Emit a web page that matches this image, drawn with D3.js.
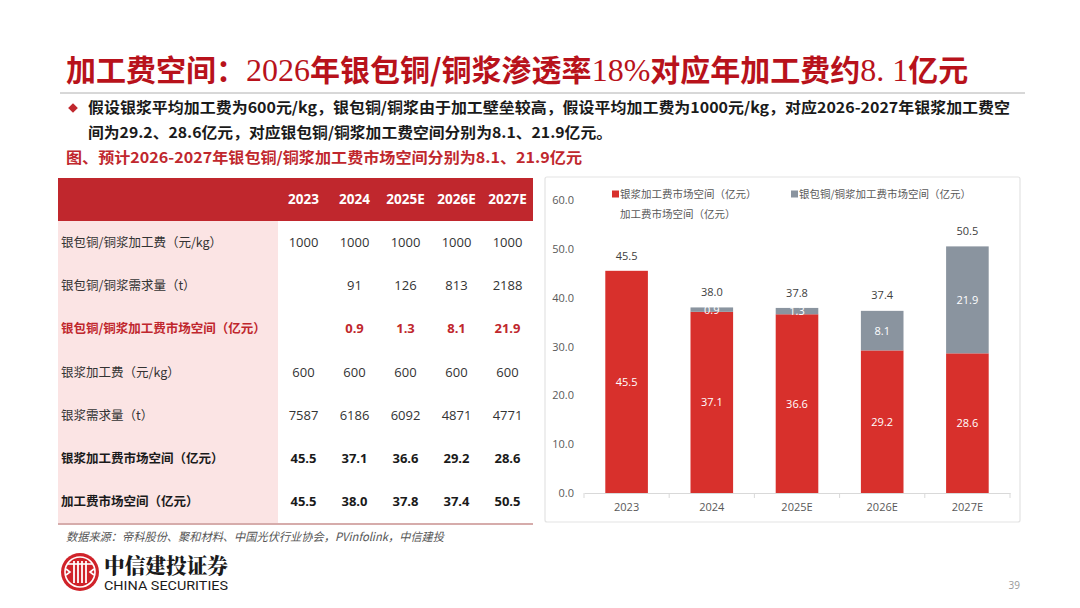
<!DOCTYPE html>
<html lang="zh">
    <head>
        <meta charset="utf-8">
        <title>加工费空间</title>
        <script src="https://d3js.org/d3.v7.min.js"></script>
        <style>
            body { margin: 0; background: #fff; }
            text { font-family: "Open Sans", "Noto Sans CJK SC", sans-serif; }
        </style>
    </head>
    <body>
    <div id="mainDiv"></div>

        <script type="text/javascript">
            // chart data
            const years = ['2023', '2024', '2025E', '2026E', '2027E']
            const silverFee = [45.5, 37.1, 36.6, 29.2, 28.6]
            const copperFee = [0, 0.9, 1.3, 8.1, 21.9]
            const totalFee = [45.5, 38.0, 37.8, 37.4, 50.5]
            const yTicks = [0, 10, 20, 30, 40, 50, 60]
            const seriesNames = ['银浆加工费市场空间（亿元）', '银包铜/铜浆加工费市场空间（亿元）', '加工费市场空间（亿元）']

            // table data
            const rowLabels = ['银包铜/铜浆加工费（元/kg）', '银包铜/铜浆需求量（t）', '银包铜/铜浆加工费市场空间（亿元）',
                '银浆加工费（元/kg）', '银浆需求量（t）', '银浆加工费市场空间（亿元）', '加工费市场空间（亿元）']
            const rowValues = [
                ['1000', '1000', '1000', '1000', '1000'],
                ['', '91', '126', '813', '2188'],
                ['', '0.9', '1.3', '8.1', '21.9'],
                ['600', '600', '600', '600', '600'],
                ['7587', '6186', '6092', '4871', '4771'],
                ['45.5', '37.1', '36.6', '29.2', '28.6'],
                ['45.5', '38.0', '37.8', '37.4', '50.5']
            ]

            const width = 1080
            const height = 608
            const red = '#d8302c'
            const darkRed = '#c0272d'
            const gray = '#8a949f'
            const cjk = '"Noto Sans CJK SC", sans-serif'

            const svg = d3.select('#mainDiv').append('svg')
                .attr('width', width)
                .attr('height', height)

            // ---- header ----
            // title: the digits are set in a lighter serif face, as on the slide
            const titleParts = [
                {t: '加工费空间：', d: false}, {t: '2026', d: true}, {t: '年银包铜/铜浆渗透率', d: false},
                {t: '18%', d: true}, {t: '对应年加工费约', d: false}, {t: '8. 1', d: true}, {t: '亿元', d: false}
            ]
            const title = svg.append('text')
                .attr('x', 66).attr('y', 81)
                .style('font-family', cjk).style('font-size', '30px').style('font-weight', 700)
                .style('fill', '#b8121b')
            title.selectAll('tspan').data(titleParts).enter().append('tspan')
                .style('font-family', d => d.d ? '"Liberation Serif", serif' : cjk)
                .style('font-weight', d => d.d ? 400 : 700)
                .style('font-size', d => d.d ? '32px' : '30px')
                .text(d => d.t)

            svg.append('line')
                .attr('x1', 60).attr('x2', 1025).attr('y1', 93).attr('y2', 93)
                .style('stroke', '#b0b0b0').style('stroke-width', 1)

            svg.append('path')
                .attr('d', d3.symbol(d3.symbolDiamond2, 60)())
                .attr('transform', 'translate(73,108)')
                .style('fill', '#c0272d')

            const bullet = [
                {t: '假设银浆平均加工费为600元/kg，银包铜/铜浆由于加工壁垒较高，假设平均加工费为1000元/kg，对应2026-2027年银浆加工费空', y: 113, w: 922},
                {t: '间为29.2、28.6亿元，对应银包铜/铜浆加工费空间分别为8.1、21.9亿元。', y: 138, w: 524}
            ]
            svg.selectAll('.bullet').data(bullet).enter().append('text')
                .attr('class', 'bullet')
                .attr('x', 88).attr('y', d => d.y)
                .attr('textLength', d => d.w).attr('lengthAdjust', 'spacingAndGlyphs')
                .style('font-family', cjk).style('font-size', '15px').style('font-weight', 700)
                .style('fill', '#1a1a1a')
                .text(d => d.t)

            svg.append('text')
                .attr('x', 66).attr('y', 163)
                .attr('textLength', 516).attr('lengthAdjust', 'spacingAndGlyphs')
                .style('font-family', cjk).style('font-size', '15px').style('font-weight', 700)
                .style('fill', '#c0272d')
                .text('图、预计2026-2027年银包铜/铜浆加工费市场空间分别为8.1、21.9亿元')

            // ---- table ----
            const table = svg.append('g')
            const colX = d3.scaleBand().domain(years).range([278, 533])
            const rowY = d3.scaleBand().domain(d3.range(rowLabels.length)).range([221, 523])

            table.append('rect')
                .attr('x', 58).attr('y', 178).attr('width', 475).attr('height', 43)
                .style('fill', darkRed)
            table.append('rect')
                .attr('x', 58).attr('y', 221).attr('width', 220).attr('height', 302)
                .style('fill', '#fbe4e4')
            table.append('line')
                .attr('x1', 58).attr('x2', 533).attr('y1', 524).attr('y2', 524)
                .style('stroke', '#c9908f').style('stroke-width', 1.5)

            table.selectAll('.hdr').data(years).enter().append('text')
                .attr('x', d => colX(d) + colX.bandwidth() / 2)
                .attr('y', 204)
                .attr('text-anchor', 'middle')
                .style('font-size', '13.5px').style('font-weight', 700).style('fill', '#fff')
                .text(d => d)

            const rowStyle = i => i === 2 ? {c: '#c0272d', w: 700} : (i >= 5 ? {c: '#1a1a1a', w: 700} : {c: '#333', w: 400})

            table.selectAll('.rlab').data(rowLabels).enter().append('text')
                .attr('x', 61)
                .attr('y', (d, i) => rowY(i) + rowY.bandwidth() / 2 + 4.5)
                .style('font-family', cjk).style('font-size', '12.5px')
                .style('font-weight', (d, i) => rowStyle(i).w)
                .style('fill', (d, i) => rowStyle(i).c)
                .text(d => d)

            rowValues.forEach((vals, i) => {
                table.selectAll('.r' + i).data(vals).enter().append('text')
                    .attr('x', (d, j) => colX(years[j]) + colX.bandwidth() / 2)
                    .attr('y', rowY(i) + rowY.bandwidth() / 2 + 4.5)
                    .attr('text-anchor', 'middle')
                    .style('font-size', '13px')
                    .style('font-weight', rowStyle(i).w)
                    .style('fill', rowStyle(i).c)
                    .text(d => d)
            })

            svg.append('text')
                .attr('x', 66).attr('y', 541)
                .attr('textLength', 378).attr('lengthAdjust', 'spacingAndGlyphs')
                .style('font-family', cjk).style('font-size', '11.5px').style('font-style', 'italic')
                .style('fill', '#555')
                .text('数据来源：帝科股份、聚和材料、中国光伏行业协会，PVinfolink，中信建投')

            // ---- chart ----
            svg.append('rect')
                .attr('x', 545).attr('y', 177).attr('width', 475).attr('height', 345)
                .attr('rx', 2)
                .style('fill', '#fff').style('stroke', '#e3e3e3').style('stroke-width', 1.2)

            const xScale = d3.scaleBand().domain(years).range([584, 1010]).paddingInner(0.5).paddingOuter(0.25)
            const xBand = d3.scaleBand().domain(years).range([584, 1010])
            const yScale = d3.scaleLinear().domain([0, 60]).range([493, 200])

            const chart = svg.append('g')

            const yAxis = d3.axisLeft(yScale).tickValues(yTicks).tickFormat(d3.format('.1f')).tickSize(0).tickPadding(10)
            chart.append('g')
                .attr('transform', 'translate(584,0)')
                .call(yAxis)
                .call(g => g.select('.domain').remove())
                .call(g => g.selectAll('text').style('font-size', '11px').style('fill', '#595959').style('font-family', '"Open Sans", sans-serif'))

            const xAxis = d3.axisBottom(xBand).tickSize(0).tickPadding(10)
            chart.append('g')
                .attr('transform', 'translate(0,493)')
                .call(xAxis)
                .call(g => g.select('.domain').style('stroke', '#d9d9d9'))
                .call(g => g.selectAll('text').style('font-size', '11px').style('fill', '#595959').style('font-family', '"Open Sans", sans-serif'))

            // category separators on the x axis
            chart.selectAll('.sep').data(years.concat(['end'])).enter().append('line')
                .attr('x1', (d, i) => 584 + i * xBand.bandwidth())
                .attr('x2', (d, i) => 584 + i * xBand.bandwidth())
                .attr('y1', 493).attr('y2', 498)
                .style('stroke', '#d9d9d9')

            const stacked = years.map((y, i) => ({year: y, silver: silverFee[i], copper: copperFee[i], total: totalFee[i]}))

            chart.selectAll('.silver').data(stacked).enter().append('rect')
                .attr('x', d => xScale(d.year))
                .attr('y', d => yScale(d.silver))
                .attr('width', xScale.bandwidth())
                .attr('height', d => yScale(0) - yScale(d.silver))
                .style('fill', red)

            chart.selectAll('.copper').data(stacked.filter(d => d.copper > 0)).enter().append('rect')
                .attr('x', d => xScale(d.year))
                .attr('y', d => yScale(d.silver + d.copper))
                .attr('width', xScale.bandwidth())
                .attr('height', d => yScale(d.silver) - yScale(d.silver + d.copper))
                .style('fill', gray)

            chart.selectAll('.silverLab').data(stacked).enter().append('text')
                .attr('x', d => xScale(d.year) + xScale.bandwidth() / 2)
                .attr('y', d => yScale(d.silver / 2) + 4)
                .attr('text-anchor', 'middle')
                .style('font-size', '11px').style('fill', '#fff')
                .text(d => d.silver.toFixed(1))

            chart.selectAll('.copperLab').data(stacked.filter(d => d.copper > 0)).enter().append('text')
                .attr('x', d => xScale(d.year) + xScale.bandwidth() / 2)
                .attr('y', d => yScale(d.silver + d.copper / 2) + 4)
                .attr('text-anchor', 'middle')
                .style('font-size', '11px').style('fill', '#fff')
                .text(d => d.copper.toFixed(1))

            chart.selectAll('.totalLab').data(stacked).enter().append('text')
                .attr('x', d => xScale(d.year) + xScale.bandwidth() / 2)
                .attr('y', d => yScale(d.total) - 11)
                .attr('text-anchor', 'middle')
                .style('font-size', '11px').style('fill', '#404040')
                .text(d => d.total.toFixed(1))

            // legend
            const legend = [
                {name: seriesNames[0], color: red, x: 612, y: 194},
                {name: seriesNames[1], color: gray, x: 791, y: 194},
                {name: seriesNames[2], color: null, x: 612, y: 214}
            ]
            const lg = chart.selectAll('.lg').data(legend).enter().append('g')
                .attr('transform', d => `translate(${d.x},${d.y})`)
            lg.filter(d => d.color).append('rect')
                .attr('x', 0).attr('y', -3.5).attr('width', 7).attr('height', 7)
                .style('fill', d => d.color)
            lg.append('text')
                .attr('x', 8).attr('y', 4)
                .style('font-family', cjk).style('font-size', '10.5px').style('fill', '#595959')
                .text(d => d.name)

            // ---- footer ----
            const logo = svg.append('g').attr('transform', 'translate(80,572)')
            logo.append('circle').attr('r', 19).style('fill', '#d0232a')
            logo.append('circle').attr('r', 15).style('fill', 'none').style('stroke', '#fff').style('stroke-width', 1.6)
            logo.selectAll('.bar').data([-6, -2, 2, 6]).enter().append('line')
                .attr('x1', d => d).attr('x2', d => d)
                .attr('y1', -11).attr('y2', 11)
                .style('stroke', '#fff').style('stroke-width', 1.8)
            logo.append('line').attr('x1', -12).attr('x2', 12).attr('y1', -8).attr('y2', -8)
                .style('stroke', '#fff').style('stroke-width', 1.6)
            logo.append('path').attr('d', 'M-14,-3 L-10,0 L-14,3 M14,-3 L10,0 L14,3')
                .style('fill', 'none').style('stroke', '#fff').style('stroke-width', 1.6)

            svg.append('text')
                .attr('x', 104).attr('y', 573)
                .attr('textLength', 124).attr('lengthAdjust', 'spacingAndGlyphs')
                .style('font-family', '"Noto Serif CJK SC", "Noto Sans CJK SC", serif')
                .style('font-size', '21px').style('font-weight', 900).style('fill', '#1a1a1a')
                .text('中信建投证券')
            svg.append('text')
                .attr('x', 104).attr('y', 590)
                .attr('textLength', 124).attr('lengthAdjust', 'spacingAndGlyphs')
                .style('font-family', '"Liberation Sans Narrow", "Roboto", sans-serif')
                .style('font-size', '13px').style('fill', '#1a1a1a')
                .text('CHINA SECURITIES')

            svg.append('text')
                .attr('x', 1020).attr('y', 589)
                .attr('text-anchor', 'end')
                .style('font-size', '10px').style('fill', '#999')
                .text('39')
        </script>
    </body>
</html>
